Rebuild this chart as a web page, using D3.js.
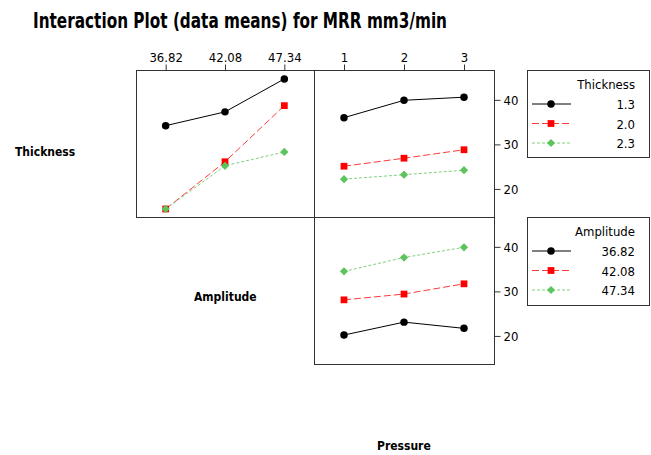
<!DOCTYPE html>
<html>
<head>
<meta charset="utf-8">
<script src="https://cdn.jsdelivr.net/npm/d3@7"></script>
<style>
  body { margin: 0; background: #fff; }
  text { font-family: "DejaVu Sans Condensed", "DejaVu Sans", sans-serif; font-stretch: condensed; }
</style>
</head>
<body>
<svg id="chart" width="651" height="455"></svg>
<script>
// factor levels
const amplitudeLevels = ['36.82', '42.08', '47.34'];
const pressureLevels = ['1', '2', '3'];
const thicknessLevels = ['1.3', '2.0', '2.3'];
const amplitudeLegend = ['36.82', '42.08', '47.34'];

// means, one row per trace level
const thicknessByAmplitude = [
    [34.2, 37.3, 44.7],
    [15.5, 26.1, 38.7],
    [15.5, 25.2, 28.3]
];
const thicknessByPressure = [
    [36.0, 39.9, 40.6],
    [25.1, 26.9, 28.8],
    [22.2, 23.2, 24.2]
];
const amplitudeByPressure = [
    [20.2, 23.1, 21.7],
    [28.1, 29.4, 31.7],
    [34.5, 37.6, 39.9]
];
const yTicks = [20, 30, 40];

const styles = [
    {line: '#000', marker: '#000', dash: null, shape: d3.symbolCircle, size: 44, rot: 0},
    {line: '#ff3a3a', marker: '#ff0000', dash: '7,3', shape: d3.symbolSquare, size: 46, rot: 0},
    {line: '#7fd07f', marker: '#5cc45c', dash: '3,2', shape: d3.symbolSquare, size: 34, rot: 45}
];

const svg = d3.select('#chart');
const tickFont = '"DejaVu Sans Condensed", "DejaVu Sans", sans-serif';

svg.append('text')
    .attr('x', 33).attr('y', 28)
    .attr('font-size', 22).attr('font-weight', 'bold')
    .attr('textLength', 414).attr('lengthAdjust', 'spacingAndGlyphs')
    .text('Interaction Plot (data means) for MRR mm3/min');

const cols = [[136, 314], [314, 494]];
const rows = [[70, 217], [217, 364]];
const yDomain = [13.7, 46.7];

function panel (col, row, levels, data, topAxis, rightAxis) {
    const x = d3.scalePoint().domain(levels).range(cols[col]).padding(0.5);
    const y = d3.scaleLinear().domain(yDomain).range([rows[row][1], rows[row][0]]);
    const g = svg.append('g');

    g.append('rect')
        .attr('x', cols[col][0] + 0.5).attr('y', rows[row][0] + 0.5)
        .attr('width', cols[col][1] - cols[col][0]).attr('height', rows[row][1] - rows[row][0])
        .attr('fill', 'none').attr('stroke', '#333');

    if (topAxis) {
        g.append('g')
            .attr('transform', `translate(0,${rows[row][0] + 0.5})`)
            .call(d3.axisTop(x).tickSize(6).tickPadding(3))
            .call(a => a.select('.domain').remove())
            .call(a => a.selectAll('line').attr('stroke', '#333'))
            .call(a => a.selectAll('text').attr('font-size', 13).attr('fill', '#000')
                .style('font-family', tickFont));
    }
    if (rightAxis) {
        g.append('g')
            .attr('transform', `translate(${cols[col][1] + 0.5},0)`)
            .call(d3.axisRight(y).tickValues(yTicks).tickSize(6).tickPadding(3))
            .call(a => a.select('.domain').remove())
            .call(a => a.selectAll('line').attr('stroke', '#333'))
            .call(a => a.selectAll('text').attr('font-size', 13).attr('fill', '#000')
                .style('font-family', tickFont));
    }

    const line = d3.line().x((d, i) => x(levels[i])).y(d => y(d));
    data.forEach((series, k) => {
        const s = styles[k];
        g.append('path')
            .datum(series)
            .attr('d', line)
            .attr('fill', 'none')
            .attr('stroke', s.line)
            .attr('stroke-width', 1)
            .attr('stroke-dasharray', s.dash);
    });
    data.forEach((series, k) => {
        const s = styles[k];
        g.selectAll(null)
            .data(series)
            .join('path')
            .attr('transform', (d, i) => `translate(${x(levels[i])},${y(d)}) rotate(${s.rot})`)
            .attr('d', d3.symbol(s.shape, s.size))
            .attr('fill', s.marker);
    });
}

panel(0, 0, amplitudeLevels, thicknessByAmplitude, true, false);
panel(1, 0, pressureLevels, thicknessByPressure, true, true);
panel(1, 1, pressureLevels, amplitudeByPressure, false, true);

function legend (top, bottom, title, labels) {
    const g = svg.append('g');
    g.append('rect')
        .attr('x', 527.5).attr('y', top + 0.5)
        .attr('width', 122).attr('height', bottom - top)
        .attr('fill', 'none').attr('stroke', '#333');
    g.append('text')
        .attr('x', 635).attr('y', top + 19)
        .attr('text-anchor', 'end').attr('font-size', 13)
        .text(title);
    labels.forEach((lab, k) => {
        const s = styles[k];
        const cy = top + 34 + k * 19.5;
        g.append('line')
            .attr('x1', 532).attr('x2', 571).attr('y1', cy).attr('y2', cy)
            .attr('stroke', s.line).attr('stroke-dasharray', s.dash);
        g.append('path')
            .attr('transform', `translate(551,${cy}) rotate(${s.rot})`)
            .attr('d', d3.symbol(s.shape, s.size))
            .attr('fill', s.marker);
        g.append('text')
            .attr('x', 635).attr('y', cy + 5)
            .attr('text-anchor', 'end').attr('font-size', 13)
            .text(lab);
    });
}

legend(70, 157, 'Thickness', thicknessLevels);
legend(217, 305, 'Amplitude', amplitudeLegend);

const labels = [
    {text: 'Thickness', x: 15, y: 156},
    {text: 'Amplitude', x: 194, y: 301},
    {text: 'Pressure', x: 377, y: 450}
];
svg.selectAll('.factor')
    .data(labels)
    .join('text')
    .attr('class', 'factor')
    .attr('x', d => d.x).attr('y', d => d.y)
    .attr('font-size', 12).attr('font-weight', 'bold')
    .text(d => d.text);
</script>
</body>
</html>
